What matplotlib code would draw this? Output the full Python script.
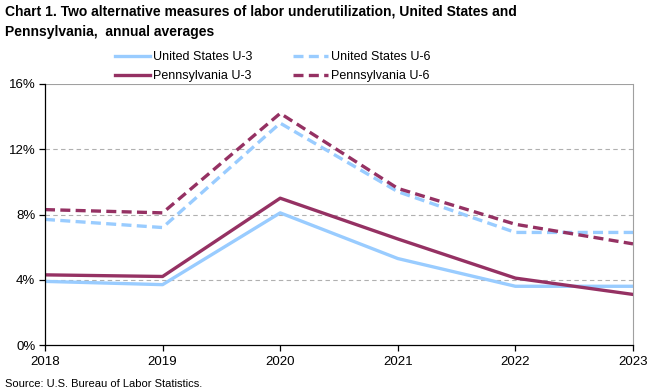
import matplotlib
matplotlib.use("Agg")
import matplotlib.pyplot as plt
from matplotlib.ticker import FuncFormatter

years = [2018, 2019, 2020, 2021, 2022, 2023]
us_u3 = [3.9, 3.7, 8.1, 5.3, 3.6, 3.6]
us_u6 = [7.7, 7.2, 13.6, 9.4, 6.9, 6.9]
pa_u3 = [4.3, 4.2, 9.0, 6.5, 4.1, 3.1]
pa_u6 = [8.3, 8.1, 14.2, 9.6, 7.4, 6.2]

blue = "#99ccff"
maroon = "#953163"

plt.rcParams["font.family"] = ["Liberation Sans", "DejaVu Sans"]

fig = plt.figure(figsize=(6.6, 3.9), dpi=100)
ax = fig.add_axes([45 / 660, 1 - 345 / 390, 588 / 660, 261 / 390])

lw = 2.4
ax.plot(years, us_u3, color=blue, lw=lw, label="United States U-3")
ax.plot(years, us_u6, color=blue, lw=lw, ls=(0, (3, 1.6)), label="United States U-6")
ax.plot(years, pa_u3, color=maroon, lw=lw, label="Pennsylvania U-3")
ax.plot(years, pa_u6, color=maroon, lw=lw, ls=(0, (3, 1.6)), label="Pennsylvania U-6")

ax.set_xlim(2018, 2023)
ax.set_ylim(0, 16)
ax.set_yticks([0, 4, 8, 12, 16])
ax.yaxis.set_major_formatter(FuncFormatter(lambda v, p: f"{v:.0f}%"))
ax.set_xticks(years)
for y in [4, 8, 12]:
    ax.axhline(y, color="#b0b0b0", lw=0.8, ls=(0, (4, 3)), zorder=0)
ax.axhline(16, color="#a0a0a0", lw=0.8, zorder=0)

ax.spines["top"].set_visible(False)
ax.spines["right"].set_color("#a0a0a0")
ax.spines["right"].set_linewidth(0.8)
ax.spines["left"].set_linewidth(0.9)
ax.spines["bottom"].set_linewidth(0.9)
ax.tick_params(axis="both", labelsize=9.5, length=4, width=0.9, direction="out")
ax.tick_params(axis="y", pad=3)
ax.tick_params(axis="x", pad=4)

# legend order: row 1 US, row 2 PA
handles, labels = ax.get_legend_handles_labels()
order = [0, 2, 1, 3]
fig.legend([handles[i] for i in order], [labels[i] for i in order],
           ncol=2, loc="upper left", bbox_to_anchor=(110 / 660, 1 - 46.5 / 390),
           frameon=False, fontsize=9, handlelength=2.8, handletextpad=0.25,
           columnspacing=3.2, labelspacing=0.55, borderaxespad=0)

fig.text(5 / 660, 1 - 5 / 390,
         "Chart 1. Two alternative measures of labor underutilization, United States and\n"
         "Pennsylvania,  annual averages",
         fontsize=10, fontweight="bold", va="top", ha="left", linespacing=1.55)
fig.text(5 / 660, 1 - 389 / 390, "Source: U.S. Bureau of Labor Statistics.",
         fontsize=8, va="bottom", ha="left")

fig.savefig("out.png", dpi=100)
